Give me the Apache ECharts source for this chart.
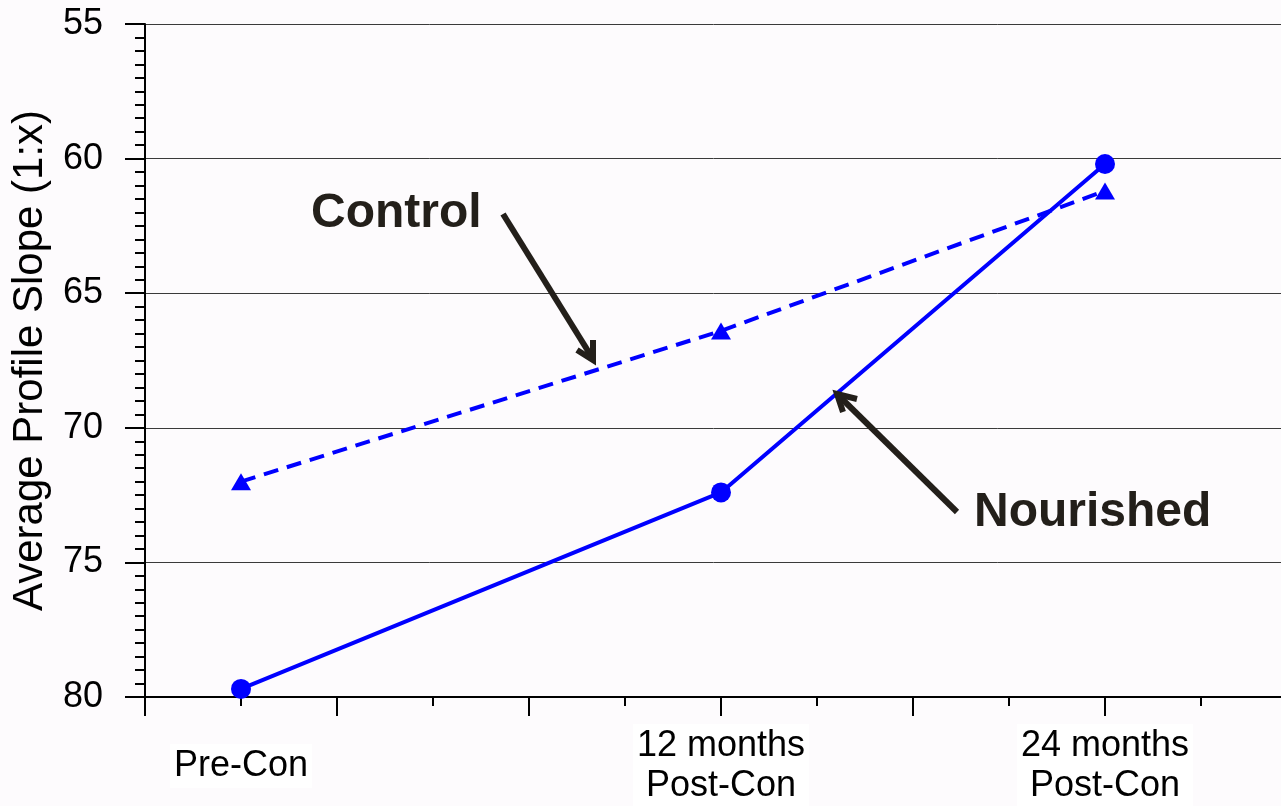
<!DOCTYPE html>
<html>
<head>
<meta charset="utf-8">
<script src="https://cdn.jsdelivr.net/npm/echarts@6/dist/echarts.min.js"></script>
<style>
html,body{margin:0;padding:0;background:#FDFBFD;}
#chart{width:1281px;height:806px;}
</style>
</head>
<body>
<div id="chart"></div>
<script>
// Data
const categoryPositions = [1, 6, 10];
const categoryLabels = ['Pre-Con', '12 months\nPost-Con', '24 months\nPost-Con'];
const nourished = [79.7, 72.4, 60.2];
const control = [72.0, 66.4, 61.2];
const yTicks = [55, 60, 65, 70, 75, 80];

const chart = echarts.init(document.getElementById('chart'));
const pairs = (xs, ys) => xs.map((x, i) => [x, ys[i]]);
const labelMap = {};
categoryPositions.forEach((p, i) => { labelMap[p] = categoryLabels[i]; });

const ink = '#231F1A';
const font = 'Arial, "Liberation Sans", Helvetica, sans-serif';

chart.setOption({
  backgroundColor: '#FDFBFD',
  animation: false,
  grid: { left: 145, width: 1152, top: 24, bottom: 109, containLabel: false, outerBoundsMode: 'none' },
  xAxis: {
    type: 'value', min: 0, max: 12, interval: 2,
    axisLine: { show: true, onZero: false, lineStyle: { color: '#000', width: 2 } },
    axisTick: { show: true, length: 19, lineStyle: { color: '#000', width: 2 } },
    minorTick: { show: true, splitNumber: 2, length: 9, lineStyle: { color: '#000', width: 2 } },
    splitLine: { show: false },
    axisLabel: {
      customValues: categoryPositions,
      formatter: v => labelMap[v] || '',
      color: '#000', fontSize: 36, fontFamily: font,
      lineHeight: 40, margin: 69, verticalAlign: 'middle',
      backgroundColor: '#FFFFFF', padding: [2, 4]
    }
  },
  yAxis: {
    type: 'value', min: yTicks[0], max: yTicks[yTicks.length - 1], interval: 5, inverse: true,
    name: 'Average Profile Slope (1:x)', nameLocation: 'middle', nameRotate: 90, nameGap: 94,
    nameTextStyle: { fontSize: 42, fontFamily: font, color: '#000' },
    axisLine: { show: true, lineStyle: { color: '#000', width: 2 } },
    axisTick: { show: true, length: 20, lineStyle: { color: '#000', width: 2 } },
    minorTick: { show: true, splitNumber: 10, length: 10, lineStyle: { color: '#000', width: 2 } },
    splitLine: { show: true, lineStyle: { color: '#3a3a3a', width: 1 } },
    axisLabel: { color: '#000', fontSize: 36, fontFamily: font, margin: 42 }
  },
  series: [
    {
      name: 'Nourished', type: 'line', data: pairs(categoryPositions, nourished),
      symbol: 'circle', symbolSize: 20,
      lineStyle: { color: '#0000FF', width: 4 },
      itemStyle: { color: '#0000FF' }, z: 3
    },
    {
      name: 'Control', type: 'line', data: pairs(categoryPositions, control),
      symbol: 'triangle', symbolSize: [20, 17],
      lineStyle: { color: '#0000FF', width: 4, type: [15, 9] },
      itemStyle: { color: '#0000FF' }, z: 3
    }
  ],
  graphic: [
    { type: 'text', left: 311, top: 190, z: 10,
      style: { text: 'Control', font: 'bold 48px ' + font, fill: ink } },
    { type: 'text', left: 974, top: 489, z: 10,
      style: { text: 'Nourished', font: 'bold 48px ' + font, fill: ink } },
    { type: 'polyline', z: 10, shape: { points: [[503, 214], [593, 359]] },
      style: { stroke: ink, lineWidth: 6, fill: null } },
    { type: 'polyline', z: 10, shape: { points: [[577, 350], [593, 360], [593, 340]] },
      style: { stroke: ink, lineWidth: 6, fill: null, lineJoin: 'miter' } },
    { type: 'polyline', z: 10, shape: { points: [[957, 512], [837, 394]] },
      style: { stroke: ink, lineWidth: 6, fill: null } },
    { type: 'polyline', z: 10, shape: { points: [[857, 399], [837, 394], [843, 412]] },
      style: { stroke: ink, lineWidth: 6, fill: null, lineJoin: 'miter' } }
  ]
});
</script>
</body>
</html>
